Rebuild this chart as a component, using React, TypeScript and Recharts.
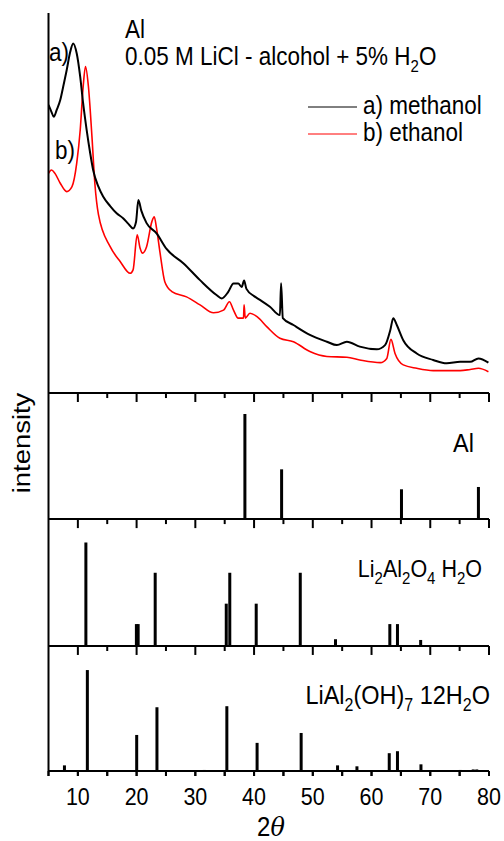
import React from "react";
import { LineChart, Line, BarChart, Bar, XAxis, YAxis, ReferenceLine } from "recharts";

const FONT = "'Liberation Sans', Arial, Helvetica, sans-serif";
const X_DOMAIN: [number, number] = [5, 80];
const TICKS = [5, 10, 15, 20, 25, 30, 35, 40, 45, 50, 55, 60, 65, 70, 75, 80];
const MAJOR_TICKS = [10, 20, 30, 40, 50, 60, 70, 80];
const MINOR_TICKS = [15, 25, 35, 45, 55, 65, 75];
const Y_MAX = 120;

// a) methanol (2theta, intensity a.u.)
const methanolX = [
  5.0, 5.5, 5.9, 6.4, 7.0, 7.5, 8.1, 8.7, 9.2, 9.8, 10.4, 10.9, 11.5, 12.1, 12.6, 13.5,
  14.3, 15.5, 16.6, 17.7, 18.6, 19.4, 19.9, 20.3, 20.8, 21.7, 23.4, 25.1, 28.0, 30.8,
  33.6, 34.5, 35.6, 36.5, 37.3, 37.9, 38.3, 38.7, 40.0, 41.0, 42.7, 44.4, 44.6, 44.9,
  46.7, 49.5, 52.4, 54.1, 55.8, 58.0, 60.9, 62.3, 63.2, 63.7, 64.3, 65.4, 67.7, 70.5,
  72.8, 75.1, 76.8, 78.2, 79.9,
];
const methanolY = [
  75.8, 74.0, 72.7, 74.5, 77.1, 80.6, 85.0, 89.8, 92.0, 89.4, 83.2, 76.2, 69.2, 63.1, 58.7, 54.3,
  51.7, 49.2, 47.3, 46.0, 44.5, 43.3, 45.0, 50.8, 48.0, 44.7, 42.0, 37.9, 34.1, 29.7,
  25.8, 24.9, 26.6, 28.8, 28.8, 27.9, 29.6, 27.4, 25.5, 24.5, 22.7, 20.5, 28.9, 19.7,
  17.9, 15.3, 13.5, 12.6, 13.5, 12.2, 11.5, 12.6, 16.6, 19.7, 17.9, 13.9, 10.4, 8.7,
  7.8, 8.2, 8.2, 9.1, 8.0,
];

// b) ethanol
const ethanolX = [
  5.0, 5.5, 6.1, 7.0, 8.1, 9.0, 9.8, 10.4, 10.9, 11.3, 11.8, 12.4, 12.9, 13.5, 15.5, 17.2,
  18.9, 19.4, 20.1, 20.6, 21.0, 21.7, 22.6, 23.0, 23.4, 24.0, 24.8, 26.0, 28.5, 30.8,
  33.1, 34.8, 35.8, 36.5, 37.3, 38.2, 38.3, 38.5, 39.3, 40.5, 42.2, 44.4, 46.7, 49.5,
  52.4, 55.8, 58.0, 61.5, 62.6, 63.3, 64.0, 65.4, 67.7, 70.5, 75.1, 76.8, 78.2, 79.9,
];
const ethanolY = [
  57.8, 58.7, 57.8, 55.2, 53.0, 54.3, 60.4, 69.2, 80.6, 85.9, 80.6, 67.4, 55.0, 47.0, 38.5, 34.6,
  31.5, 32.4, 41.6, 38.1, 36.8, 38.5, 45.1, 46.4, 43.3, 36.8, 29.3, 26.7, 25.3, 23.2,
  21.1, 21.8, 24.0, 21.8, 19.7, 19.7, 23.2, 19.7, 21.0, 20.1, 17.4, 14.4, 13.5, 10.9,
  9.6, 9.4, 8.7, 8.0, 9.1, 14.1, 10.4, 7.4, 6.5, 5.9, 5.9, 6.2, 6.5, 5.6,
];

// reference patterns (2theta, relative intensity)
const alPos = [38.47, 44.72, 65.13, 78.23];
const alInt = [100, 47.3, 28.3, 30.5];

const laoPos = [11.4, 20.0, 20.3, 23.2, 35.3, 35.9, 40.4, 47.9, 53.9, 63.15, 64.45, 68.4];
const laoInt = [97.8, 20.7, 20.7, 69.2, 40, 69.2, 40, 69.2, 6.4, 20.7, 20.7, 5.7];

const lahPos = [7.7, 11.6, 20.0, 23.45, 31.5, 35.35, 40.5, 48.0, 54.2, 57.5, 63.0, 64.4, 68.4, 75.1, 77.3, 77.9];
const lahInt = [5.4, 96.9, 34.6, 61.2, 1, 62.2, 27.0, 36.5, 5.4, 4.5, 17.1, 19.0, 6.4, 1, 1.5, 1.5];

const zipXY = (xs: number[], ys: number[]) => xs.map((x, i) => ({ x, y: ys[i] }));
const methanol = zipXY(methanolX, methanolY);
const ethanol = zipXY(ethanolX, ethanolY);
const alData = zipXY(alPos, alInt);
const laoData = zipXY(laoPos, laoInt);
const lahData = zipXY(lahPos, lahInt);

const AXIS = { stroke: "#000", strokeWidth: 2 };
const SY = 1.12;

function T({ x, y, size = 22.5, anchor = "start", rotate, children }: any) {
  const tf = `translate(${x} ${y}) scale(1 ${SY})` + (rotate ? ` rotate(${rotate})` : "");
  return (
    <text transform={tf} fontSize={size} textAnchor={anchor} fontFamily={FONT} fill="#000">
      {children}
    </text>
  );
}

const Sub = ({ children, size = 15 }: any) => (
  <tspan fontSize={size} dy={6}>
    {children}
  </tspan>
);
const Up = ({ children }: any) => <tspan dy={-6}>{children}</tspan>;

const Stick = (p: any) => {
  const { x, y, width, height } = p;
  if (x == null || y == null) return null;
  const cx = x + (width || 0) / 2;
  return <rect x={cx - 1.5} y={y} width={3} height={Math.max(height, 0)} fill="#000" />;
};

const BottomTick = (p: any) => {
  const { x, y, payload } = p;
  if (payload.value % 10 !== 0) return <g />;
  return (
    <T x={x} y={y + 29} size={21.5} anchor="middle">
      {payload.value}
    </T>
  );
};

// inward ticks hanging from the top edge of a stick panel (~9px major, ~5px minor)
const topTicks = () => [
  ...MAJOR_TICKS.map((t) => (
    <ReferenceLine
      key={`M${t}`}
      segment={[{ x: t, y: Y_MAX }, { x: t, y: Y_MAX - 8.6 }]}
      stroke="#000"
      strokeWidth={2}
      ifOverflow="visible"
    />
  )),
  ...MINOR_TICKS.map((t) => (
    <ReferenceLine
      key={`m${t}`}
      segment={[{ x: t, y: Y_MAX }, { x: t, y: Y_MAX - 4.8 }]}
      stroke="#000"
      strokeWidth={2}
      ifOverflow="visible"
    />
  )),
];

// outward ticks below the bottom axis
const bottomTicks = () =>
  TICKS.map((t) => (
    <ReferenceLine
      key={`b${t}`}
      segment={[{ x: t, y: 0 }, { x: t, y: -4.8 }]}
      stroke="#000"
      strokeWidth={2}
      ifOverflow="visible"
    />
  ));

const xAxisFor = (last: boolean) => (
  <XAxis
    type="number"
    dataKey="x"
    domain={X_DOMAIN}
    allowDataOverflow
    orientation="bottom"
    height={last ? 60 : 12}
    ticks={TICKS}
    interval={0}
    tickSize={last ? 5 : 0}
    tickMargin={0}
    tickLine={last ? AXIS : false}
    tick={last ? <BottomTick /> : () => <g />}
    axisLine={AXIS}
  />
);

function StickPanel({ data, top, height, last, z, children }: any) {
  const axisH = last ? 60 : 12;
  const mb = last ? 10 : 2;
  return (
    <div style={{ position: "absolute", left: 0, top, zIndex: z }}>
      <BarChart
        width={504}
        height={2 + height + axisH + mb}
        data={data}
        margin={{ top: 2, right: 15, bottom: mb, left: 0 }}
      >
        {xAxisFor(!!last)}
        <YAxis domain={[0, Y_MAX]} width={48.5} tick={false} tickLine={false} axisLine={AXIS} />
        <Bar dataKey="y" shape={<Stick />} isAnimationActive={false} />
        {topTicks()}
        {last && bottomTicks()}
        {children}
      </BarChart>
    </div>
  );
}

export default function App() {
  return (
    <div style={{ position: "absolute", left: 0, top: 0, width: 504, height: 841, background: "#fff" }}>
      <div style={{ position: "absolute", left: 0, top: 0, zIndex: 4 }}>
        <LineChart width={504} height={407} margin={{ top: 13, right: 15, bottom: 2, left: 0 }}>
          {xAxisFor(false)}
          <YAxis domain={[0, 100]} width={48.5} tick={false} tickLine={false} axisLine={AXIS} />
          <Line
            data={ethanol}
            dataKey="y"
            type="monotone"
            stroke="#ff0000"
            strokeWidth={1.6}
            dot={false}
            isAnimationActive={false}
          />
          <Line
            data={methanol}
            dataKey="y"
            type="monotone"
            stroke="#000"
            strokeWidth={2}
            dot={false}
            isAnimationActive={false}
          />
          <T x={125} y={38}>Al</T>
          <T x={125} y={65}>
            0.05 M LiCl - alcohol + 5% H<Sub>2</Sub>
            <Up>O</Up>
          </T>
          <T x={49} y={61}>a)</T>
          <T x={55} y={159}>b)</T>
          <line x1={308} y1={107} x2={357} y2={107} stroke="#000" strokeWidth={1} />
          <T x={363} y={114}>a) methanol</T>
          <line x1={308} y1={134} x2={357} y2={134} stroke="#ff0000" strokeWidth={1} />
          <T x={363} y={141}>b) ethanol</T>
        </LineChart>
      </div>

      <StickPanel data={alData} top={391} height={126} z={3}>
        <T x={30} y={52} size={24.5} anchor="middle" rotate={-90}>
          intensity
        </T>
        <T x={474} y={61} size={23.5} anchor="end">Al</T>
      </StickPanel>

      <StickPanel data={laoData} top={517} height={127} z={2}>
        <T x={482} y={60} size={21.5} anchor="end">
          Li<Sub>2</Sub>
          <Up>Al</Up>
          <Sub>2</Sub>
          <Up>O</Up>
          <Sub>4</Sub>
          <Up> H</Up>
          <Sub>2</Sub>
          <Up>O</Up>
        </T>
      </StickPanel>

      <StickPanel data={lahData} top={644} height={125} last z={1}>
        <T x={490} y={60} size={23.5} anchor="end">
          LiAl<Sub size={16}>2</Sub>
          <Up>(OH)</Up>
          <Sub size={16}>7</Sub>
          <Up> 12H</Up>
          <Sub size={16}>2</Sub>
          <Up>O</Up>
        </T>
        <T x={271} y={192} size={24} anchor="middle">
          2<tspan fontFamily="'DejaVu Serif', serif" fontStyle="italic">θ</tspan>
        </T>
      </StickPanel>
    </div>
  );
}
